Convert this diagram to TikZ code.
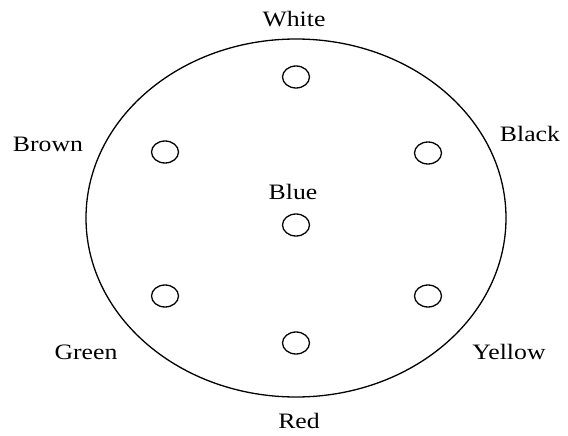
\documentclass[tikz,border=0pt]{standalone}
\usepackage{fontspec}
\setmainfont{Liberation Serif}
\usetikzlibrary{shapes.geometric}
\newcommand{\wide}[1]{\scalebox{1.17}[1]{#1}}
\begin{document}
\begin{tikzpicture}[x=1pt,y=-1pt,
  hole/.style={draw,line width=1.3pt,ellipse,inner sep=0pt,minimum width=27pt,minimum height=22pt},
  lbl/.style={font=\fontsize{22}{26}\selectfont,inner sep=0pt,anchor=base}]
\useasboundingbox (0,0) rectangle (568,436);
\draw[line width=1.3pt] (296,218) ellipse [x radius=210, y radius=179];
\node[hole] (w) at (296,77) {};
\node[hole] (br) at (165,152) {};
\node[hole] (bk) at (428,153) {};
\node[hole] (bl) at (296,225) {};
\node[hole] (g) at (165,296) {};
\node[hole] (y) at (428,296) {};
\node[hole] (r) at (296,343) {};
\node[lbl] (tw) at (294,26.5) {\wide{White}};
\node[lbl] (tbr) at (48,151.5) {\wide{Brown}};
\node[lbl] (tbk) at (530,141.5) {\wide{Black}};
\node[lbl] (tbl) at (293,199) {\wide{Blue}};
\node[lbl] (tg) at (86,359) {\wide{Green}};
\node[lbl] (ty) at (509,359.5) {\wide{Yellow}};
\node[lbl] (tr) at (299,428) {\wide{Red}};
\end{tikzpicture}
\end{document}
